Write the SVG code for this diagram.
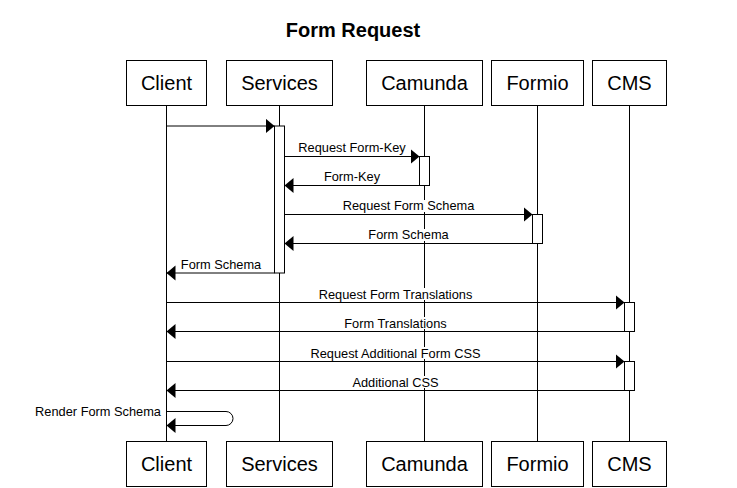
<svg xmlns="http://www.w3.org/2000/svg" width="737" height="488" viewBox="0 0 737 488">
<defs>
<marker id="ah" markerUnits="userSpaceOnUse" markerWidth="10" markerHeight="16" refX="9" refY="7.5" orient="auto">
<path d="M0,0 L9,7.5 L0,15 z" fill="#000"/>
</marker>
<style>
.actor rect{fill:#fff;stroke:#000;stroke-width:1}
.actor text{font-family:"Liberation Sans",Arial,sans-serif;font-size:20px;text-anchor:middle;fill:#000}
.life{stroke:#000;stroke-width:1}
.act{fill:#fff;stroke:#000;stroke-width:1}
.msg{stroke:#000;stroke-width:1;fill:none;marker-end:url(#ah)}
.lbl{font-family:"Liberation Sans",Arial,sans-serif;font-size:12.8px;text-anchor:middle;fill:#000}
.bg{fill:#fff}
.title{font-family:"Liberation Sans",Arial,sans-serif;font-size:20px;font-weight:bold;text-anchor:middle;fill:#000}
</style>
</defs>
<rect width="737" height="488" fill="#fff"/>
<text class="title" x="353" y="37">Form Request</text>

<g id="lifelines">
<line class="life" x1="166.5" y1="105.5" x2="166.5" y2="441.5"/>
<line class="life" x1="279.5" y1="105.5" x2="279.5" y2="441.5"/>
<line class="life" x1="424.5" y1="105.5" x2="424.5" y2="441.5"/>
<line class="life" x1="537.5" y1="105.5" x2="537.5" y2="441.5"/>
<line class="life" x1="629.5" y1="105.5" x2="629.5" y2="441.5"/>
</g>

<g id="client" class="actor">
<rect x="126.5" y="60.5" width="80" height="45"/><text x="166.5" y="90">Client</text>
<rect x="126.5" y="441.5" width="80" height="45"/><text x="166.5" y="471">Client</text>
</g>
<g id="services" class="actor">
<rect x="226.5" y="60.5" width="106" height="45"/><text x="279.5" y="90">Services</text>
<rect x="226.5" y="441.5" width="106" height="45"/><text x="279.5" y="471">Services</text>
</g>
<g id="camunda" class="actor">
<rect x="366.5" y="60.5" width="116" height="45"/><text x="424.5" y="90">Camunda</text>
<rect x="366.5" y="441.5" width="116" height="45"/><text x="424.5" y="471">Camunda</text>
</g>
<g id="formio" class="actor">
<rect x="491.5" y="60.5" width="92" height="45"/><text x="537.5" y="90">Formio</text>
<rect x="491.5" y="441.5" width="92" height="45"/><text x="537.5" y="471">Formio</text>
</g>
<g id="cms" class="actor">
<rect x="592.5" y="60.5" width="74" height="45"/><text x="629.5" y="90">CMS</text>
<rect x="592.5" y="441.5" width="74" height="45"/><text x="629.5" y="471">CMS</text>
</g>

<g id="activations">
<rect class="act" x="274.5" y="126" width="10" height="147"/>
<rect class="act" x="419.5" y="156.5" width="10" height="29"/>
<rect class="act" x="532.5" y="214.5" width="10" height="29"/>
<rect class="act" x="624.5" y="302.5" width="10" height="29"/>
<rect class="act" x="624.5" y="361.5" width="10" height="29"/>
</g>

<g id="connectors">
<g id="labels-bg">
<rect class="bg" x="297" y="142" width="111" height="12"/>
<rect class="bg" x="323" y="171" width="58" height="12"/>
<rect class="bg" x="341" y="200" width="136" height="12"/>
<rect class="bg" x="367" y="229" width="84" height="12"/>
<rect class="bg" x="179" y="259" width="84" height="12"/>
<rect class="bg" x="317" y="288" width="158" height="12"/>
<rect class="bg" x="343" y="317" width="106" height="12"/>
<rect class="bg" x="308" y="347" width="176" height="12"/>
<rect class="bg" x="350" y="376" width="89" height="12"/>
</g>
<line class="msg" x1="166.5" y1="126" x2="274.5" y2="126"/>
<line class="msg" x1="284.5" y1="156.5" x2="419.5" y2="156.5"/>
<line class="msg" x1="419.5" y1="185.5" x2="284.5" y2="185.5"/>
<line class="msg" x1="284.5" y1="214.5" x2="532.5" y2="214.5"/>
<line class="msg" x1="532.5" y1="243.5" x2="284.5" y2="243.5"/>
<line class="msg" x1="274.5" y1="273" x2="166.5" y2="273"/>
<line class="msg" x1="166.5" y1="302.5" x2="624.5" y2="302.5"/>
<line class="msg" x1="624.5" y1="331.5" x2="166.5" y2="331.5"/>
<line class="msg" x1="166.5" y1="361.5" x2="624.5" y2="361.5"/>
<line class="msg" x1="624.5" y1="390.5" x2="166.5" y2="390.5"/>
<path class="msg" d="M166.5,411.5 H226 A7,7 0 0 1 226,425.5 H166.5"/>

<text class="lbl" x="352" y="152">Request Form-Key</text>
<text class="lbl" x="352" y="181">Form-Key</text>
<text class="lbl" x="408.5" y="210">Request Form Schema</text>
<text class="lbl" x="408.5" y="239">Form Schema</text>
<text class="lbl" x="221" y="269">Form Schema</text>
<text class="lbl" x="395.5" y="298.5">Request Form Translations</text>
<text class="lbl" x="395.5" y="327.5">Form Translations</text>
<text class="lbl" x="395.5" y="357.5">Request Additional Form CSS</text>
<text class="lbl" x="395.5" y="386.5">Additional CSS</text>
<text class="lbl" x="161" y="416" style="text-anchor:end">Render Form Schema</text>
</g>
</svg>
